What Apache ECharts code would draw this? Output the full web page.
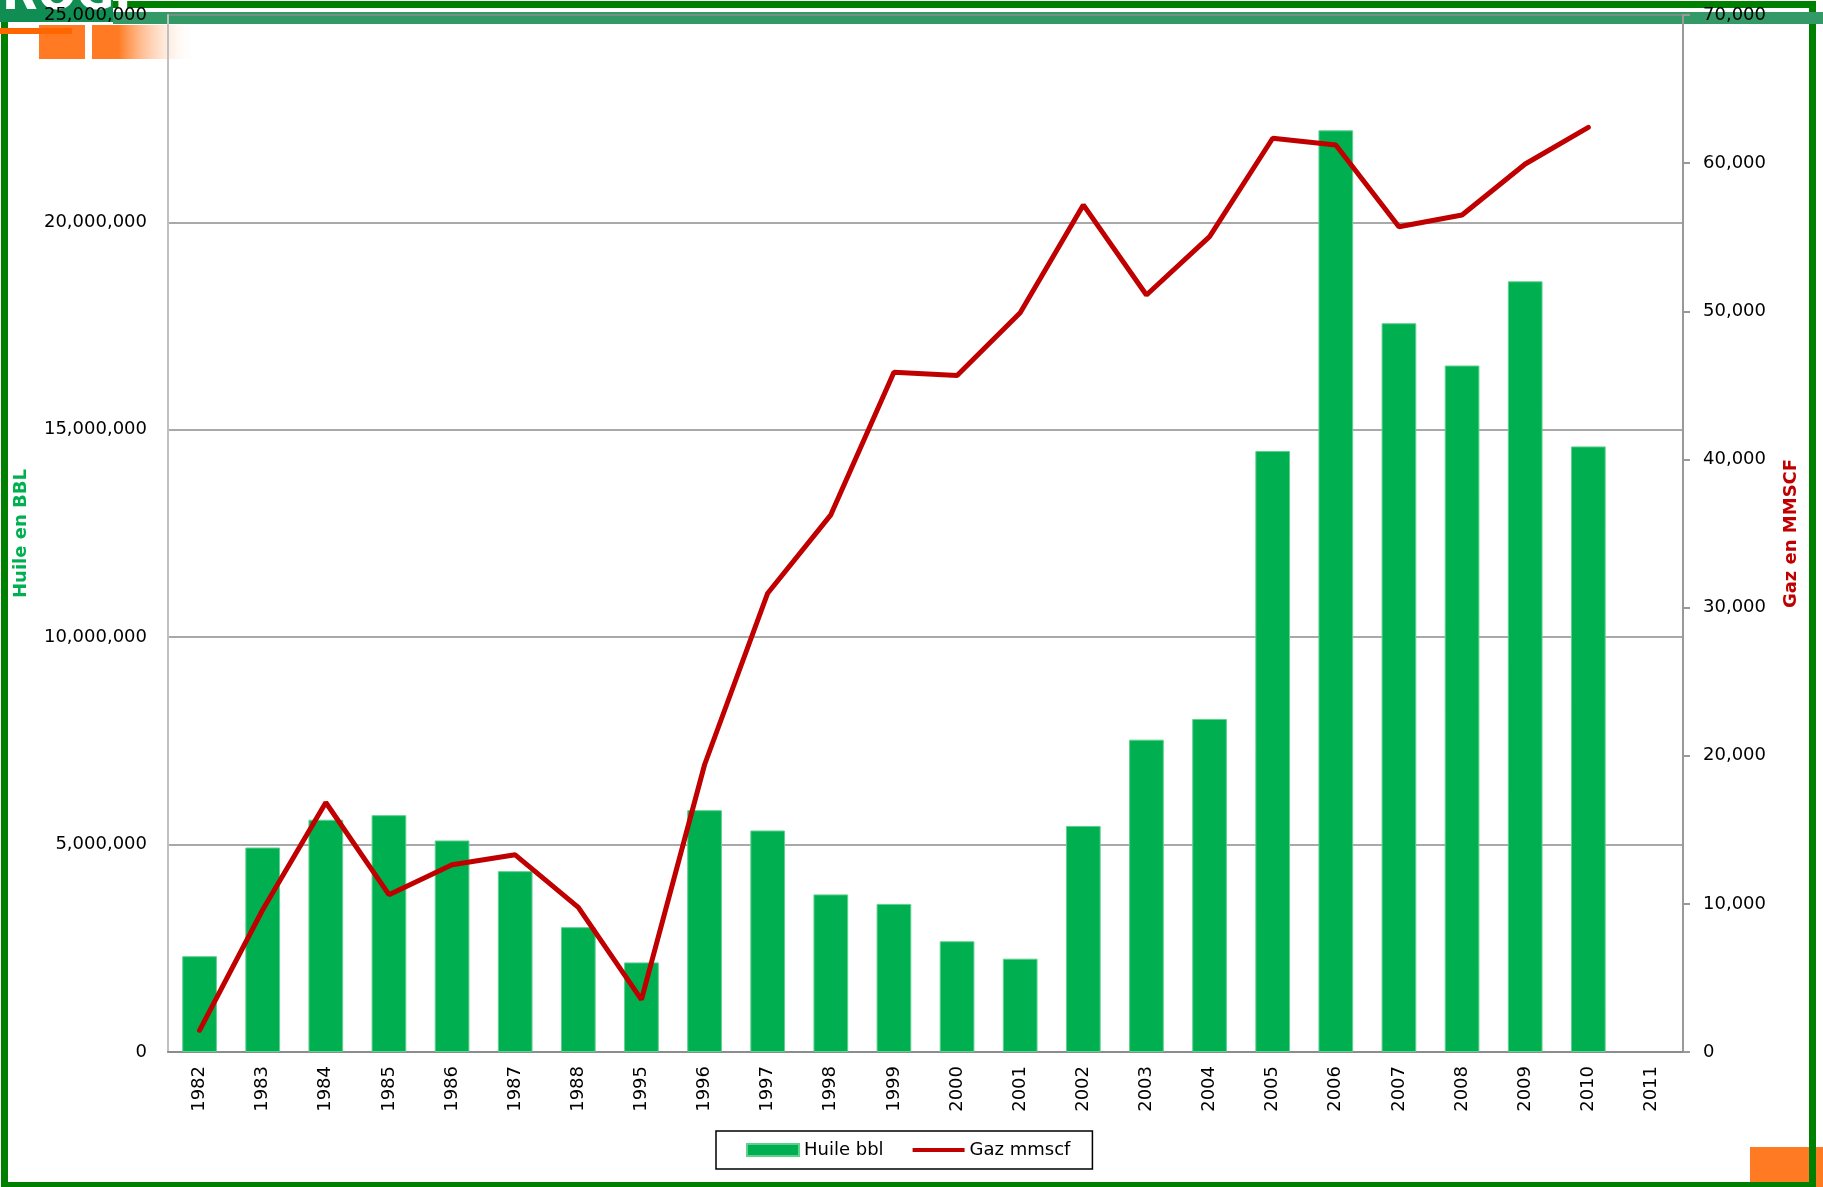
<!DOCTYPE html>
<html>
<head>
<meta charset="utf-8">
<title>Huile et gaz</title>
<script src="https://cdn.jsdelivr.net/npm/echarts@6/dist/echarts.min.js"></script>
<style>
  html, body { margin: 0; padding: 0; background: #fff; }
  #main { width: 1823px; height: 1187px; }
</style>
</head>
<body>
<div id="main"></div>
<script>
const years = ['1982', '1983', '1984', '1985', '1986', '1987', '1988', '1995', '1996', '1997', '1998', '1999',
  '2000', '2001', '2002', '2003', '2004', '2005', '2006', '2007', '2008', '2009', '2010', '2011'];
const huileBbl = [2310000, 4930000, 5600000, 5710000, 5100000, 4360000, 3010000, 2160000, 5830000, 5340000, 3800000, 3570000,
  2670000, 2250000, 5450000, 7530000, 8030000, 14490000, 22220000, 17570000, 16550000, 18580000, 14600000, null];
const gazMmscf = [1460, 9600, 16840, 10620, 12640, 13310, 9760, 3530, 19390, 30970, 36260, 45890,
  45660, 49900, 57180, 51100, 55040, 61680, 61220, 55710, 56500, 59940, 62420, null];

const font = 'DejaVu Sans';
const fmt = v => Number(v).toLocaleString('en-US');

const chart = echarts.init(document.getElementById('main'));

chart.setOption({
  animation: false,
  textStyle: { fontFamily: font },
  grid: { left: 168, right: 140, top: 15, bottom: 135 },
  legend: {
    left: 716,
    top: 1131,
    padding: [10, 22, 10, 30],
    itemGap: 29,
    itemWidth: 52,
    itemHeight: 12,
    borderColor: '#000',
    borderWidth: 1.5,
    textStyle: { fontFamily: font, fontSize: 18, color: '#000' },
    data: [
      { name: 'Huile bbl', icon: 'rect' },
      { name: 'Gaz mmscf', icon: 'path://M0,0 L100,0 L100,8 L0,8 Z' }
    ]
  },
  xAxis: {
    type: 'category',
    data: years,
    axisLine: { lineStyle: { color: '#8c8c8c', width: 2 } },
    axisTick: { show: false },
    axisLabel: { rotate: 90, margin: 14, fontSize: 18, color: '#000', fontFamily: font }
  },
  yAxis: [{
    type: 'value',
    min: 0,
    max: 25000000,
    interval: 5000000,
    name: 'Huile en BBL',
    nameLocation: 'middle',
    nameRotate: 90,
    nameGap: 138,
    nameTextStyle: { color: '#00B050', fontWeight: 'bold', fontSize: 18, fontFamily: font },
    axisLine: { show: true, lineStyle: { color: '#c0c0c0', width: 2 } },
    axisTick: { show: false },
    axisLabel: { margin: 21, fontSize: 18, color: '#000', fontFamily: font, formatter: fmt },
    splitLine: { lineStyle: { color: '#8c8c8c', width: 1.5 } }
  }, {
    type: 'value',
    min: 0,
    max: 70000,
    interval: 10000,
    position: 'right',
    name: 'Gaz en MMSCF',
    nameLocation: 'middle',
    nameRotate: 90,
    nameGap: 99,
    nameTextStyle: { color: '#C00000', fontWeight: 'bold', fontSize: 18, fontFamily: font },
    axisLine: { show: true, lineStyle: { color: '#999', width: 2 } },
    axisTick: { show: true, length: 7, lineStyle: { color: '#999', width: 2 } },
    axisLabel: { margin: 20, fontSize: 18, color: '#000', fontFamily: font, formatter: fmt },
    splitLine: { show: false }
  }],
  series: [{
    name: 'Huile bbl',
    type: 'bar',
    data: huileBbl,
    barWidth: '55%',
    itemStyle: { color: '#00B050', borderColor: '#5fd18f', borderWidth: 1 }
  }, {
    name: 'Gaz mmscf',
    type: 'line',
    yAxisIndex: 1,
    data: gazMmscf,
    symbol: 'none',
    color: '#C00000',
    lineStyle: { color: '#C00000', width: 5, cap: 'round' }
  }],
  graphic: [
    // slide decorations, kept under the axis labels
    { type: 'rect', z: -3, shape: { x: 4.5, y: 4.5, width: 1808, height: 1181 }, style: { fill: 'none', stroke: '#008000', lineWidth: 7 } },
    { type: 'rect', z: -2, shape: { x: 113, y: 12, width: 1710, height: 12 }, style: { fill: '#339966' } },
    { type: 'rect', z: -2, shape: { x: 0, y: 0, width: 113, height: 22 }, style: { fill: '#0f8d52' } },
    { type: 'text', z: -1, left: 2, top: -26, style: { text: 'ROGI', fill: '#fff', font: 'bold 46px DejaVu Sans' } },
    { type: 'rect', z: -2, shape: { x: 39, y: 25, width: 46, height: 34 }, style: { fill: '#ff7a22' } },
    { type: 'rect', z: -1, shape: { x: 0, y: 28, width: 72, height: 6 }, style: { fill: '#ff6600' } },
    {
      type: 'rect', z: -2, shape: { x: 92, y: 25, width: 105, height: 34 },
      style: {
        fill: new echarts.graphic.LinearGradient(0, 0, 1, 0, [
          { offset: 0, color: '#ff7a22' },
          { offset: 0.25, color: '#ff7a22' },
          { offset: 1, color: 'rgba(255,255,255,0)' }
        ])
      }
    },
    { type: 'rect', z: -4, shape: { x: 1750, y: 1147, width: 73, height: 40 }, style: { fill: '#ff7a22' } }
  ]
});

window.addEventListener('resize', () => chart.resize());
</script>
</body>
</html>
